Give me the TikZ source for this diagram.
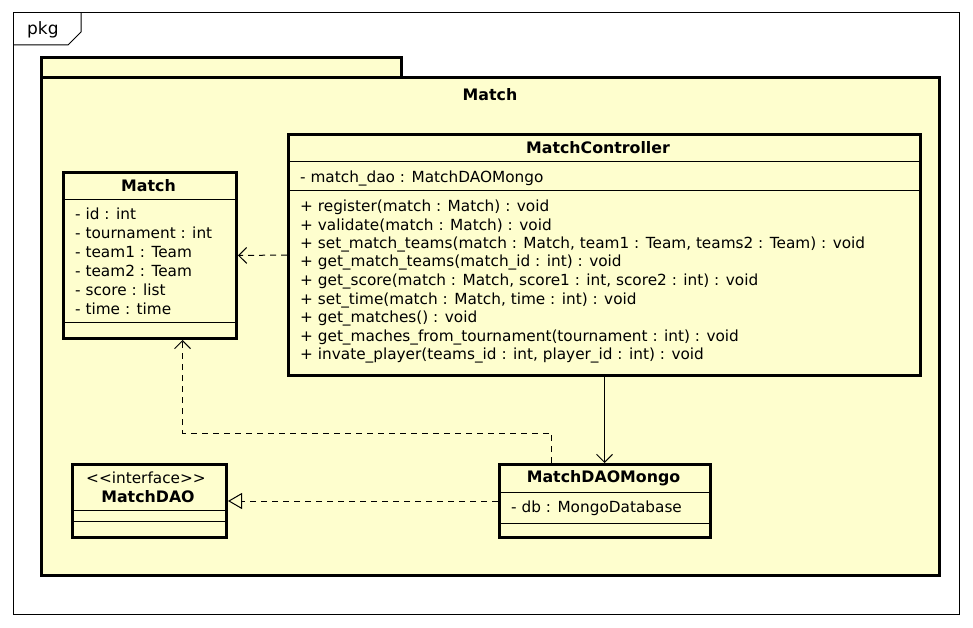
\documentclass[tikz,border=0pt]{standalone}
\usepackage{fontspec}
\setmainfont{DejaVu Sans}
\usetikzlibrary{arrows.meta}
\definecolor{umlfill}{HTML}{FEFECE}
\tikzset{
  pkgline/.style={line width=3pt, fill=umlfill},
  classbox/.style={draw, line width=3pt, fill=umlfill, inner sep=0pt, anchor=north west},
  sep/.style={line width=1pt},
  txt/.style={inner sep=0pt, anchor=west, font=\fontsize{15.3}{17}\selectfont},
  ttl/.style={inner sep=0pt, anchor=center, font=\fontsize{15.8}{18}\selectfont\bfseries},
  dep/.style={line width=1pt, dashed, dash pattern=on 6pt off 5pt, -{Straight Barb[length=8pt,width=16pt,line width=1pt]}},
  assoc/.style={line width=1pt, -{Straight Barb[length=8pt,width=16pt,line width=1pt]}},
  real/.style={line width=1pt, dash pattern=on 6pt off 5pt, -{Triangle[open,length=14pt,width=16pt,line width=1pt]}},
}
\begin{document}
\begin{tikzpicture}[x=1pt,y=-1pt]
\useasboundingbox[fill=white] (0,0) rectangle (973,628);
% outer frame
\draw[line width=1pt] (13,13) rectangle (959,614);
\draw[line width=1pt] (13,45) -- (68,45) -- (81,32) -- (81,13);
\node[txt, font=\fontsize{17}{19}\selectfont] (pkg) at (27,30) {pkg};
% package
\draw[pkgline] (41,58) rectangle (401,78);
\draw[pkgline] (41,78) rectangle (939,575);
\node[ttl] (pkgname) at (490,95) {Match};
% Match class
\node[classbox, minimum width=173pt, minimum height=166pt] (match) at (62,171) {};
\node[ttl] (matchT) at (148.5,186) {Match};
\draw[sep] (match.west |- 0,200) -- (match.east |- 0,200);
\node[txt] (a1) at (75,214) {- id : int};
\node[txt] (a2) at (75,233) {- tournament : int};
\node[txt] (a3) at (75,252) {- team1 : Team};
\node[txt] (a4) at (75,271) {- team2 : Team};
\node[txt] (a5) at (75,290) {- score : list};
\node[txt] (a6) at (75,309) {- time : time};
\draw[sep] (match.west |- 0,322) -- (match.east |- 0,322);
% MatchController
\node[classbox, minimum width=632pt, minimum height=241pt] (ctrl) at (287,133) {};
\node[ttl] (ctrlT) at (598,148) {MatchController};
\draw[sep] (ctrl.west |- 0,162) -- (ctrl.east |- 0,162);
\node[txt] (c0) at (300,178) {- match\_dao : MatchDAOMongo};
\draw[sep] (ctrl.west |- 0,191) -- (ctrl.east |- 0,191);
\node[txt] (m1) at (300,207) {+ register(match : Match) : void};
\node[txt] (m2) at (300,225.6) {+ validate(match : Match) : void};
\node[txt] (m3) at (300,244.2) {+ set\_match\_teams(match : Match, team1 : Team, teams2 : Team) : void};
\node[txt] (m4) at (300,262.8) {+ get\_match\_teams(match\_id : int) : void};
\node[txt] (m5) at (300,281.4) {+ get\_score(match : Match, score1 : int, score2 : int) : void};
\node[txt] (m6) at (300,300) {+ set\_time(match : Match, time : int) : void};
\node[txt] (m7) at (300,318.6) {+ get\_matches() : void};
\node[txt] (m8) at (300,337.2) {+ get\_maches\_from\_tournament(tournament : int) : void};
\node[txt] (m9) at (300,355.8) {+ invate\_player(teams\_id : int, player\_id : int) : void};
% MatchDAO
\node[classbox, minimum width=154pt, minimum height=73pt] (dao) at (71,463) {};
\node[txt, anchor=center] (daoS) at (146,478) {<{}<interface>{}>};
\node[ttl] (daoT) at (148,497) {MatchDAO};
\draw[sep] (dao.west |- 0,510) -- (dao.east |- 0,510);
\draw[sep] (dao.west |- 0,521) -- (dao.east |- 0,521);
% MatchDAOMongo
\node[classbox, minimum width=211pt, minimum height=73pt] (mongo) at (498,463) {};
\node[ttl] (mongoT) at (603.5,478) {MatchDAOMongo};
\draw[sep] (mongo.west |- 0,492) -- (mongo.east |- 0,492);
\node[txt] (d1) at (511,508) {- db : MongoDatabase};
\draw[sep] (mongo.west |- 0,523) -- (mongo.east |- 0,523);
% connectors
\draw[dep] (ctrl.west) -- (match.east);
\draw[dep] ([xshift=-53.5pt]mongo.north) -- ++(0,-30) -| ([xshift=32.5pt]match.south);
\draw[assoc] (ctrl.south) -- (ctrl.south |- mongo.north);
\draw[real] (mongo.west) -- (dao.east);
\end{tikzpicture}
\end{document}
